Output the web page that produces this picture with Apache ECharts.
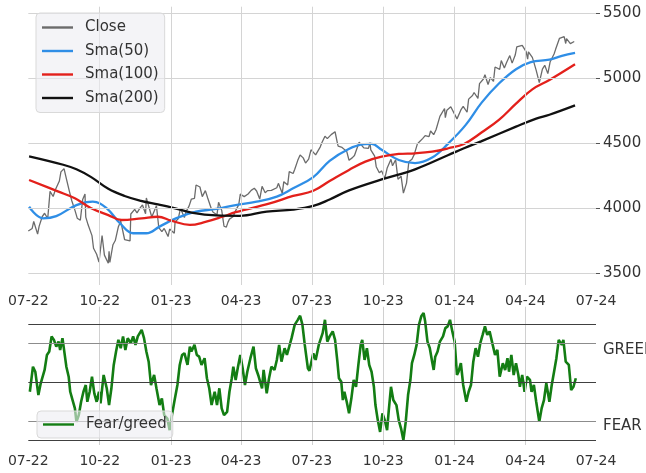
<!DOCTYPE html>
<html><head><meta charset="utf-8">
<script src="https://cdn.jsdelivr.net/npm/echarts@6/dist/echarts.min.js"></script>
<style>html,body{margin:0;padding:0;background:#fff}#c{width:646px;height:473px}</style>
</head><body><div id="c"></div>
<script>
// ---- data ----
const closeDates = [
'2022-07-01','2022-07-06','2022-07-08','2022-07-13','2022-07-15','2022-07-19','2022-07-22','2022-07-26','2022-07-29',
'2022-08-02','2022-08-05','2022-08-10','2022-08-12','2022-08-16','2022-08-19','2022-08-23','2022-08-26','2022-08-30',
'2022-09-02','2022-09-06','2022-09-09','2022-09-12','2022-09-13','2022-09-16','2022-09-21','2022-09-23','2022-09-27','2022-09-30',
'2022-10-04','2022-10-07','2022-10-12','2022-10-13','2022-10-14','2022-10-18','2022-10-21','2022-10-25','2022-10-28',
'2022-11-02','2022-11-04','2022-11-09','2022-11-10','2022-11-15','2022-11-18','2022-11-22','2022-11-25','2022-11-29','2022-11-30',
'2022-12-02','2022-12-07','2022-12-09','2022-12-13','2022-12-16','2022-12-20','2022-12-23','2022-12-28','2022-12-30',
'2023-01-05','2023-01-06','2023-01-10','2023-01-13','2023-01-18','2023-01-20','2023-01-24','2023-01-27','2023-01-31',
'2023-02-02','2023-02-07','2023-02-10','2023-02-14','2023-02-17','2023-02-22','2023-02-24',
'2023-03-01','2023-03-03','2023-03-07','2023-03-10','2023-03-13','2023-03-15','2023-03-17','2023-03-22','2023-03-24','2023-03-29','2023-03-31',
'2023-04-05','2023-04-10','2023-04-14','2023-04-18','2023-04-21','2023-04-25','2023-04-28',
'2023-05-02','2023-05-05','2023-05-10','2023-05-12','2023-05-17','2023-05-19','2023-05-24','2023-05-26','2023-05-31',
'2023-06-02','2023-06-07','2023-06-09','2023-06-13','2023-06-16','2023-06-20','2023-06-23','2023-06-27','2023-06-30',
'2023-07-06','2023-07-07','2023-07-12','2023-07-14','2023-07-18','2023-07-21','2023-07-26','2023-07-28','2023-07-31',
'2023-08-03','2023-08-04','2023-08-09','2023-08-11','2023-08-15','2023-08-18','2023-08-22','2023-08-25','2023-08-31',
'2023-09-01','2023-09-06','2023-09-08','2023-09-12','2023-09-14','2023-09-15','2023-09-20','2023-09-22','2023-09-26','2023-09-29',
'2023-10-03','2023-10-06','2023-10-11','2023-10-13','2023-10-17','2023-10-20','2023-10-24','2023-10-27','2023-10-31',
'2023-11-03','2023-11-07','2023-11-10','2023-11-14','2023-11-17','2023-11-21','2023-11-24','2023-11-29',
'2023-12-01','2023-12-05','2023-12-08','2023-12-13','2023-12-15','2023-12-19','2023-12-20','2023-12-22','2023-12-27','2023-12-29',
'2024-01-04','2024-01-05','2024-01-09','2024-01-12','2024-01-17','2024-01-19','2024-01-24','2024-01-26','2024-01-31',
'2024-02-02','2024-02-07','2024-02-09','2024-02-13','2024-02-16','2024-02-20','2024-02-22','2024-02-23','2024-02-28',
'2024-03-01','2024-03-05','2024-03-08','2024-03-12','2024-03-15','2024-03-19','2024-03-21','2024-03-22','2024-03-28',
'2024-04-02','2024-04-04','2024-04-05','2024-04-10','2024-04-12','2024-04-15','2024-04-19','2024-04-23','2024-04-26','2024-04-30',
'2024-05-03','2024-05-08','2024-05-10','2024-05-15','2024-05-17','2024-05-21','2024-05-23','2024-05-24','2024-05-29','2024-05-31',
'2024-06-03'];
const closeValues = [
3825,3845,3899,3801,3863,3937,3962,3921,4130,
4091,4145,4210,4280,4305,4228,4128,4058,3986,
3924,3908,4067,4110,3932,3873,3790,3693,3647,3586,
3791,3640,3577,3670,3583,3720,3752,3859,3901,
3760,3771,3749,3956,3992,3965,4003,4026,3958,4080,
4072,3933,3934,4019,3852,3821,3845,3783,3840,
3808,3895,3919,3999,3929,3973,4017,4071,4077,
4179,4164,4090,4136,4079,3991,3970,
3951,4046,3986,3862,3855,3892,3917,3937,3971,4028,4109,
4090,4110,4138,4154,4133,4071,4169,
4119,4136,4138,4124,4158,4192,4115,4205,4180,
4282,4268,4299,4369,4410,4388,4348,4378,4450,
4411,4399,4473,4505,4555,4536,4567,4582,4589,
4502,4478,4468,4464,4438,4370,4388,4406,4508,
4515,4465,4457,4461,4505,4450,4402,4320,4274,4288,
4229,4308,4377,4327,4373,4224,4247,4117,4194,
4358,4378,4415,4496,4514,4538,4559,4551,
4595,4567,4604,4707,4719,4768,4698,4755,4781,4770,
4688,4697,4757,4784,4739,4840,4868,4891,4846,
4959,4995,5027,4953,5006,4976,5087,5089,5069,
5137,5079,5124,5175,5117,5179,5241,5234,5254,
5205,5147,5204,5161,5123,5061,4967,5071,5100,5036,
5128,5187,5223,5308,5303,5321,5268,5305,5267,5278,
5283];

// SMA lines: day offsets from 2022-07-01 and values
const sma50Days   = [1,19,36,62,83,101,118,135,152,169,190,216,242,267,294,320,341,367,388,412,433,442,455,477,498,520,541,563,584,606,628,647,671,687,704];
const sma50Values = [4012,3923,3940,4025,4051,4000,3885,3808,3808,3859,3923,3974,3995,4025,4051,4090,4154,4240,4365,4455,4493,4495,4450,4372,4348,4390,4500,4640,4815,4960,5070,5125,5143,5172,5195];
const sma100Days   = [1,38,60,81,103,120,146,167,184,208,228,250,267,311,341,367,388,413,434,455,477,498,520,541,561,584,606,628,649,671,704];
const sma100Values = [4218,4130,4077,4000,3948,3910,3923,3935,3905,3872,3895,3935,3970,4038,4095,4135,4210,4295,4359,4397,4418,4423,4436,4462,4495,4585,4680,4805,4915,4987,5108];
const sma200Days   = [1,45,62,81,103,124,145,167,184,212,242,272,307,341,367,388,413,455,498,541,561,583,628,654,671,704];
const sma200Values = [4400,4335,4300,4240,4150,4095,4058,4030,4008,3965,3945,3942,3975,3990,4018,4068,4138,4222,4300,4410,4462,4515,4628,4690,4720,4792];

// Fear/greed index (day offsets from 2022-07-01)
const fgDays = [
2,6,9,13,16,21,24,27,30,33,
36,39,41,44,46,49,52,54,57,60,
62,65,68,71,74,76,79,82,85,88,
91,93,97,101,104,107,110,113,116,119,
122,125,128,132,135,138,141,146,149,152,
155,158,162,165,169,172,175,179,182,185,
188,192,195,198,201,205,208,210,214,217,
220,223,227,230,233,236,240,243,246,249,
252,256,259,262,264,267,270,273,276,279,
282,286,290,293,296,301,303,307,310,313,
317,320,323,326,330,333,336,339,343,347,
350,353,356,360,362,367,370,374,379,382,
385,388,392,395,398,400,403,405,407,410,
413,416,419,422,425,428,430,433,436,439,
442,445,447,450,453,456,459,462,464,467,
470,474,477,480,483,486,489,492,494,497,
500,503,506,509,511,514,517,520,522,524,
527,530,534,537,540,543,546,549,552,554,
557,560,564,567,570,573,576,579,582,585,
588,591,594,598,601,604,607,611,614,617,
619,622,625,628,631,633,636,639,642,646,
648,651,654,658,661,664,667,671,674,677,
680,683,687,689,692,696,699,702,705];
const fgValues = [
-0.49,0.81,0.55,-0.66,-0.05,0.64,1.42,1.6,2.38,2.2,
1.85,2.11,1.68,2.29,2.38,0.81,0.29,-0.49,-0.92,-1.35,
-2.05,-1.70,-1.01,-0.49,-0.14,-1.01,-0.49,0.29,-0.57,-1.01,
-0.49,-1.09,0.38,-0.31,-1.18,-0.31,0.90,1.6,2.2,1.77,
2.38,1.68,2.29,2.03,2.38,1.94,2.38,2.72,2.29,1.6,
1.07,-0.14,0.38,-0.31,-1.18,-0.83,-1.70,-1.88,-2.48,-1.70,
-1.01,-0.14,0.90,1.42,1.51,0.90,1.85,1.6,1.94,1.42,
1.33,0.90,1.25,0.21,-0.31,-1.18,-0.49,-1.18,-0.31,-1.35,
-1.70,-1.53,-0.49,0.21,0.81,0.12,0.81,1.42,0.73,-0.14,
0.55,1.25,1.85,0.73,0.38,-0.31,0.64,-0.57,0.21,0.81,
0.64,1.16,1.94,1.07,1.77,1.42,1.85,2.29,2.98,3.24,
3.45,2.98,1.94,0.73,0.6,1.5,1.16,1.94,2.55,3.24,
2.11,2.38,2.64,2.2,1.07,0.21,0.03,-0.92,-0.49,-1.01,
-1.61,-0.83,0.12,-0.23,0.90,1.94,2.2,1.16,1.77,0.90,
0.55,-0.23,-1.18,-1.96,-2.57,-1.61,-1.96,-2.48,-1.53,-0.23,
-0.92,-1.18,-1.96,-2.40,-3.0,-2.05,-0.66,0.12,0.99,1.42,
1.94,2.98,3.42,3.59,3.16,2.11,1.77,1.07,0.64,1.33,
1.6,2.11,2.38,2.81,2.9,3.24,2.64,2.11,0.38,0.55,
0.99,-0.14,-1.01,-0.49,-0.14,1.07,1.77,1.33,2.03,2.46,
2.90,2.46,2.64,1.94,1.42,1.68,0.29,0.99,0.64,1.25,
0.55,1.42,0.38,0.99,0.38,-0.23,0.38,-0.49,0.29,0.12,
-0.49,-0.14,-1.01,-2.05,-1.35,-0.92,-0.05,-1.01,-0.14,0.55,
1.25,2.2,1.94,2.2,1.07,0.90,-0.40,-0.23,0.21];

const quarterDates = ['2022-07-01','2022-10-01','2023-01-01','2023-04-01','2023-07-01','2023-10-01','2024-01-01','2024-04-01','2024-07-01'];
const priceTicks = [3500,4000,4500,5000,5500];
const fgLevels = [3,2,0,-2,-3];
const fgTickLabels = ['GREED','FEAR'];
const seriesNames = ['Close','Sma(50)','Sma(100)','Sma(200)','Fear/greed'];

// ---- helpers ----
const t = s => { const p = s.split('-').map(Number); return new Date(p[0], p[1]-1, p[2]).getTime(); };
const START = t('2022-07-01');
const fromDay = d => START + d * 86400000;
const zipDays = (ds, vs) => ds.map((d, i) => [fromDay(d), vs[i]]);
const quarterTimes = quarterDates.map(t);
const innerQuarters = quarterTimes.slice(1, -1);
const fmt = v => { const d = new Date(v + 43200000); return String(d.getMonth()+1).padStart(2,'0') + '-' + String(d.getFullYear()%100).padStart(2,'0'); };
const FONT = 'DejaVu Sans';

const xAxisBase = (gi) => ({
  type: 'value', gridIndex: gi, min: quarterTimes[0], max: quarterTimes[quarterTimes.length-1],
  axisLine: {show: false}, axisTick: {show: false}, splitLine: {show: false},
  axisLabel: {customValues: quarterTimes, formatter: fmt, fontSize: 14, color: '#333', margin: 9, fontFamily: FONT}
});
const legendBase = {
  orient: 'vertical', itemWidth: 31, itemHeight: 2.4, itemGap: 8.5, icon: 'rect',
  backgroundColor: 'rgba(236,236,242,0.6)', borderColor: '#d9d9d9', borderWidth: 1, borderRadius: 4,
  textStyle: {fontSize: 15, lineHeight: 15, color: '#333', fontFamily: FONT, padding: [0,0,0,7]}, z: 10
};

const chart = echarts.init(document.getElementById('c'), null, {renderer: 'canvas'});
chart.setOption({
  animation: false,
  backgroundColor: '#fff',
  textStyle: {fontFamily: FONT},
  grid: [
    {left: 28.3, right: 50, top: 6.7, height: 278.3, outerBoundsMode: 'none', containLabel: false},
    {left: 28.3, right: 50, top: 306.7, height: 138.3, outerBoundsMode: 'none', containLabel: false}
  ],
  xAxis: [xAxisBase(0), xAxisBase(1)],
  yAxis: [
    {type: 'value', gridIndex: 0, position: 'right', min: 3410, max: 5551,
     axisLine: {show: false}, splitLine: {show: false},
     axisTick: {show: true, customValues: priceTicks, length: 4, lineStyle: {color: '#555'}},
     axisLabel: {customValues: priceTicks, formatter: v => String(v), fontSize: 15, color: '#333', margin: 7, fontFamily: FONT}},
    {type: 'value', gridIndex: 1, position: 'right', min: -3.25, max: 3.92,
     axisLine: {show: false}, splitLine: {show: false}, axisTick: {show: false},
     axisLabel: {customValues: [1.68, -2.26], formatter: v => v > 0 ? fgTickLabels[0] : fgTickLabels[1],
                 fontSize: 15, color: '#333', margin: 7, fontFamily: FONT}}
  ],
  legend: [
    Object.assign({}, legendBase, {data: seriesNames.slice(0,4), left: 36, top: 13, padding: [7,6,7,6]}),
    Object.assign({}, legendBase, {data: seriesNames.slice(4), left: 37, top: 411, padding: [6,6,6,6]})
  ],
  series: [
    {type: 'line', xAxisIndex: 0, yAxisIndex: 0, data: [], silent: true, z: 1,
     markLine: {silent: true, symbol: ['none','none'], label: {show: false}, animation: false,
       lineStyle: {color: '#d4d4d4', width: 1, type: 'solid'},
       data: priceTicks.map(v => ({yAxis: v})).concat(innerQuarters.map(q => ({xAxis: q})))}},
    {type: 'line', xAxisIndex: 1, yAxisIndex: 1, data: [], silent: true, z: 1,
     markLine: {silent: true, symbol: ['none','none'], label: {show: false}, animation: false,
       lineStyle: {color: '#d0d0d0', width: 1, type: 'solid'},
       data: innerQuarters.map(q => ({xAxis: q})).concat(fgLevels.map(v => ({yAxis: v,
         lineStyle: {color: Math.abs(v) === 2 ? '#8c8c8c' : '#404040', width: 1.1, type: 'solid'}})))}},
    {name: seriesNames[0], type: 'line', xAxisIndex: 0, yAxisIndex: 0, symbol: 'none', showSymbol: false,
     lineStyle: {color: '#6b6b6b', width: 1.3}, itemStyle: {color: '#6b6b6b'},
     data: closeDates.map((d, i) => [t(d), closeValues[i]])},
    {name: seriesNames[1], type: 'line', xAxisIndex: 0, yAxisIndex: 0, symbol: 'none', smooth: 0.4,
     lineStyle: {color: '#2f8ee6', width: 2.3}, itemStyle: {color: '#2f8ee6'}, data: zipDays(sma50Days, sma50Values)},
    {name: seriesNames[2], type: 'line', xAxisIndex: 0, yAxisIndex: 0, symbol: 'none', smooth: 0.4,
     lineStyle: {color: '#e3201b', width: 2.3}, itemStyle: {color: '#e3201b'}, data: zipDays(sma100Days, sma100Values)},
    {name: seriesNames[3], type: 'line', xAxisIndex: 0, yAxisIndex: 0, symbol: 'none', smooth: 0.4,
     lineStyle: {color: '#111', width: 2.3}, itemStyle: {color: '#111'}, data: zipDays(sma200Days, sma200Values)},
    {name: seriesNames[4], type: 'line', xAxisIndex: 1, yAxisIndex: 1, symbol: 'none',
     lineStyle: {color: '#137d13', width: 2.6}, itemStyle: {color: '#137d13'}, data: zipDays(fgDays, fgValues)}
  ]
});
</script></body></html>
